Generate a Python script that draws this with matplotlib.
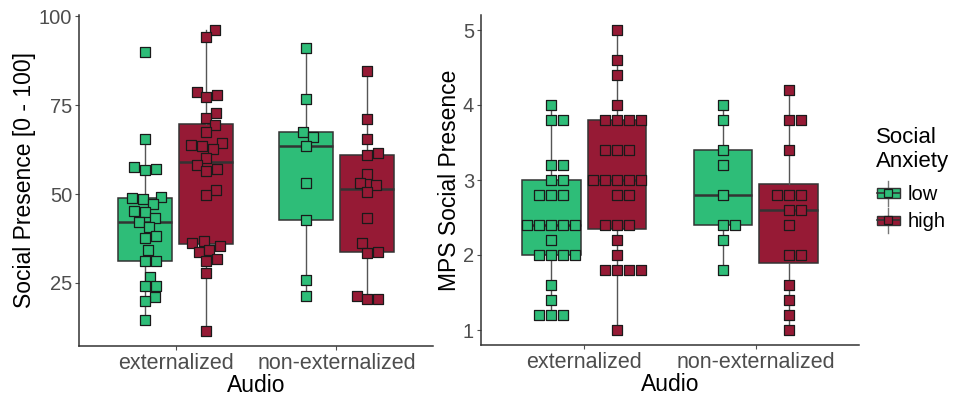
import numpy as np
import matplotlib
matplotlib.use("Agg")
import matplotlib.pyplot as plt
from matplotlib.legend_handler import HandlerBase
from matplotlib.patches import Rectangle, Patch
from matplotlib.lines import Line2D

plt.rcParams['font.family'] = ['Liberation Sans', 'DejaVu Sans']

# ---------------- data ----------------
categories = ["externalized", "non-externalized"]
groups = ["low", "high"]
colors = {"low": "#2EBD78", "high": "#961A35"}

# Left panel: Social Presence [0 - 100]
sp_ext_low = [90, 65.4, 57.5, 56.7, 57.0, 49.1, 48.5, 49.0, 47.2, 45.0, 45.1, 43.2,
              42.1, 40.6, 38.2, 37.7, 34.3, 31.3, 31.3, 26.8, 24.0, 24.1, 21.0, 19.9, 14.6]
sp_ext_high = [96.1, 94.2, 78.8, 77.2, 77.7, 72.8, 71.3, 69.3, 67.4, 63.5, 63.9, 64.4,
               62.6, 60.1, 58.1, 56.9, 56.4, 51.1, 49.6, 35.4, 36.1, 36.9, 33.6, 34.3,
               31.8, 31.3, 27.9, 11.5]
sp_non_low = [91.1, 76.8, 67.4, 65.9, 63.5, 53.0, 42.7, 25.8, 21.4]
sp_non_high = [84.6, 71.0, 65.4, 61.0, 61.4, 55.5, 53.0, 52.5, 50.6, 43.2, 36.1,
               33.7, 33.3, 21.4, 20.4, 20.4]

# Right panel: MPS Social Presence
mps_ext_low = [4.0, 3.8, 3.8, 3.2, 3.2, 3.0, 3.0, 2.8, 2.8, 2.8, 2.4, 2.4, 2.4, 2.4, 2.4,
               2.2, 2.0, 2.0, 2.0, 2.0, 1.6, 1.4, 1.2, 1.2, 1.2]
mps_ext_high = [5.0, 4.6, 4.4, 4.0, 3.8, 3.8, 3.8, 3.8, 3.4, 3.4, 3.4, 3.0, 3.0, 3.0, 3.0,
                3.0, 2.8, 2.8, 2.4, 2.4, 2.4, 2.2, 2.0, 1.8, 1.8, 1.8, 1.8, 1.0]
mps_non_low = [4.0, 3.8, 3.4, 3.2, 2.8, 2.4, 2.4, 2.2, 1.8]
mps_non_high = [4.2, 3.8, 3.8, 3.4, 2.8, 2.8, 2.8, 2.6, 2.6, 2.4, 2.0, 2.0, 1.6, 1.4, 1.2, 1.0]

left_data = {("externalized", "low"): sp_ext_low, ("externalized", "high"): sp_ext_high,
             ("non-externalized", "low"): sp_non_low, ("non-externalized", "high"): sp_non_high}
right_data = {("externalized", "low"): mps_ext_low, ("externalized", "high"): mps_ext_high,
              ("non-externalized", "low"): mps_non_low, ("non-externalized", "high"): mps_non_high}

left_yticks = [25, 50, 75, 100]
right_yticks = [1, 2, 3, 4, 5]

# ---------------- figure ----------------
W, H = 955, 396
fig = plt.figure(figsize=(W / 100, H / 100), dpi=100)

def px_axes(x0, y0, x1, y1):
    return fig.add_axes([x0 / W, 1 - y1 / H, (x1 - x0) / W, (y1 - y0) / H])

axL = px_axes(79, 15, 433, 346)
axR = px_axes(481, 15, 859, 345)

OFF = 0.19
BW = 0.34
EDGE = "#333333"


def swarm_offsets(vals, px_per_y, diam):
    """Classic beeswarm: ascending order, nearest non-overlapping x (pixels)."""
    order = np.argsort(vals, kind="stable")
    placed = []
    offs = np.zeros(len(vals))
    for i in order:
        y = vals[i] * px_per_y
        cands = [0.0]
        near = []
        for (px, py) in placed:
            dy = abs(py - y)
            if dy < diam:
                dx = np.sqrt(diam ** 2 - dy ** 2)
                cands += [px + dx, px - dx]
                near.append((px, py))
        best = None
        for c in sorted(cands, key=lambda c: (round(abs(c), 6), -c)):
            ok = all((c - px) ** 2 + (y - py) ** 2 >= diam ** 2 - 1e-6 for (px, py) in near)
            if ok:
                best = c
                break
        offs[i] = best
        placed.append((best, y))
    return offs


def draw_panel(ax, data, ylim, yticks, ylabel, diam, ytick_size, ylabelpad):
    ax.set_xlim(0.4, 2.6)
    ax.set_ylim(*ylim)
    bbox = ax.get_window_extent()
    px_per_x = bbox.width / 2.2
    px_per_y = bbox.height / (ylim[1] - ylim[0])
    for ci, cat in enumerate(categories):
        for gi, g in enumerate(groups):
            vals = np.array(data[(cat, g)], dtype=float)
            pos = ci + 1 + (-OFF if g == "low" else OFF)
            ax.boxplot([vals], positions=[pos], widths=BW, patch_artist=True,
                       showfliers=False, showcaps=False,
                       boxprops=dict(facecolor=colors[g], edgecolor=EDGE, linewidth=1.1),
                       medianprops=dict(color=EDGE, linewidth=1.8),
                       whiskerprops=dict(color="#555555", linewidth=1.0),
                       zorder=2)
            offs = swarm_offsets(vals, px_per_y, diam)
            ax.scatter(pos + offs / px_per_x, vals, marker="s", s=46,
                       facecolor=colors[g], edgecolor="#1a1a1a", linewidth=0.9, zorder=3)
    ax.set_xticks([1, 2])
    ax.set_xticklabels(categories, fontsize=15.5, color="#4D4D4D")
    ax.set_yticks(yticks)
    ax.set_yticklabels([str(t) for t in yticks], fontsize=ytick_size, color="#4D4D4D")
    ax.tick_params(axis="both", length=3, width=0.8, color="#4D4D4D", pad=2)
    ax.set_xlabel("Audio", fontsize=16.5, labelpad=0)
    ax.set_ylabel(ylabel, fontsize=16.5, labelpad=ylabelpad)
    for s in ["top", "right"]:
        ax.spines[s].set_visible(False)
    for s in ["left", "bottom"]:
        ax.spines[s].set_color("#333333")
        ax.spines[s].set_linewidth(1.1)


def padded(vals_list, frac=0.05):
    allv = np.concatenate([np.asarray(v, dtype=float) for v in vals_list])
    lo, hi = allv.min(), allv.max()
    span = hi - lo
    return (lo - frac * span, hi + frac * span)

draw_panel(axL, left_data, padded(list(left_data.values())), left_yticks,
           "Social Presence [0 - 100]", 11.0, 14.5, 2)
draw_panel(axR, right_data, padded(list(right_data.values())), right_yticks,
           "MPS Social Presence", 12.0, 14.5, 1)


class BoxKeyHandler(HandlerBase):
    def create_artists(self, legend, orig_handle, xdescent, ydescent, width, height,
                       fontsize, trans):
        fc = orig_handle.get_facecolor()
        cx = width / 2 - xdescent
        cy = height / 2 - ydescent
        wl = Line2D([cx, cx], [cy - height * 0.75, cy + height * 0.75], color="#777777",
                    lw=1.0, transform=trans)
        bw, bh = width * 0.95, height * 0.55
        rect = Rectangle((cx - bw / 2, cy - bh / 2), bw, bh, facecolor=fc, edgecolor=EDGE,
                         lw=1.0, transform=trans)
        med = Line2D([cx - bw / 2, cx + bw / 2], [cy, cy], color=EDGE, lw=1.2, transform=trans)
        mk = Line2D([cx], [cy], marker="s", markersize=6.0, markerfacecolor=fc,
                    markeredgecolor="#1a1a1a", markeredgewidth=0.9, transform=trans)
        return [wl, rect, med, mk]

handles = [Patch(facecolor=colors[g]) for g in groups]
leg = fig.legend(handles, groups, title="Social\nAnxiety", loc="upper left",
                 bbox_to_anchor=(876 / W, 1 - 127 / H), frameon=False,
                 handler_map={Patch: BoxKeyHandler()}, fontsize=14.5,
                 title_fontsize=16, handlelength=1.2, handleheight=0.9,
                 handletextpad=0.35, labelspacing=0.4, borderpad=0.0,
                 borderaxespad=0.0)
leg._legend_box.align = "left"
leg._legend_box.sep = 9

fig.savefig("out.png", dpi=100)
